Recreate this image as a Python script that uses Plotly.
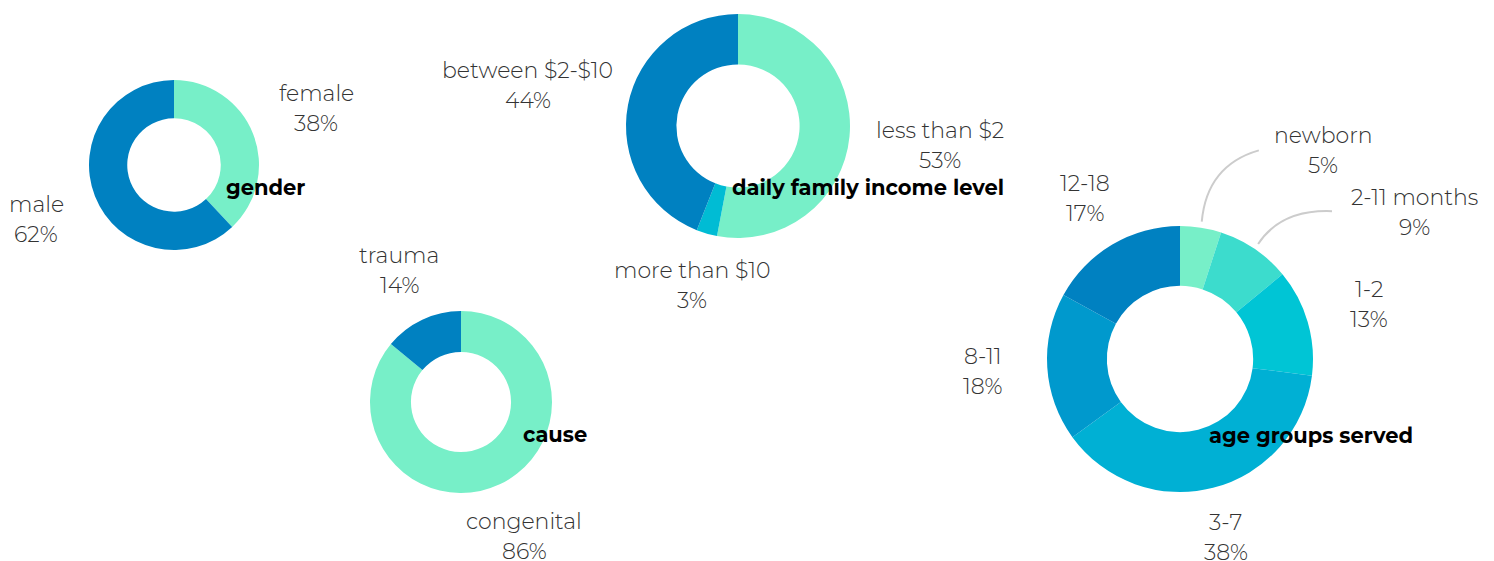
import math
import plotly.graph_objects as go

# The page body has an 8px margin: figure is offset by (8, 8) in the window.
OFF = 8
W, H = 1494 - OFF, 561 - OFF

# ---------------- data ----------------
gender_labels = ["female", "male"]
gender_values = [38, 62]

cause_labels = ["congenital", "trauma"]
cause_values = [86, 14]

income_labels = ["less than $2", "more than $10", "between $2-$10"]
income_values = [53, 3, 44]

age_labels = ["newborn", "2-11 months", "1-2", "3-7", "8-11", "12-18"]
age_values = [5, 9, 13, 38, 18, 17]

titles = ["gender", "cause", "daily family income level", "age groups served"]

# ---------------- styles / layout ----------------
MINT = "#77efc8"
DARK = "#0081c1"
gender_colors = [MINT, DARK]
cause_colors = [MINT, DARK]
income_colors = [MINT, "#00bcd4", DARK]
age_colors = [MINT, "#3cdccd", "#00c5d5", "#00b0d4", "#0099cd", DARK]

# (center x, center y, radius) in window pixels
geom = [(174, 165, 85), (461, 402, 91), (738, 126, 112), (1180, 359, 133)]
# label distance from pie centre (px) for each slice
label_dist = [[153, 148], [149, 145], [203, 166, 214], [None, None, 197, 184, 198, 186]]
# labels moved away with a connector:
# slice index -> (label angle, label dist, connector-end angle, end dist, ctrl fx, ctrl fy)
moved = {3: {0: (34.4, 253, 20.7, 223, 0.09, 0.21),
             1: (58.0, 277, 45.8, 212, 0.31, -0.06)}}
title_pos = [(265, 187), (555, 434), (868, 187), (1311, 435)]

FONT = "Montserrat, Inter, 'Open Sans', sans-serif"
LABEL_COLOR = "#333333"
LABEL_SIZE = 22
TITLE_SIZE = 21
LINE_GAP = 30

charts = [
    (gender_labels, gender_values, gender_colors),
    (cause_labels, cause_values, cause_colors),
    (income_labels, income_values, income_colors),
    (age_labels, age_values, age_colors),
]


def px(x, y):
    """window pixel -> paper fraction"""
    return (x - OFF) / W, 1 - (y - OFF) / H


def polar(cx, cy, ang, d):
    return cx + d * math.sin(math.radians(ang)), cy - d * math.cos(math.radians(ang))


fig = go.Figure()
annotations = []
shapes = []

for ci, ((labels, values, colors), (cx, cy, R)) in enumerate(zip(charts, geom)):
    x0, y1 = px(cx - R, cy - R)
    x1, y0 = px(cx + R, cy + R)
    fig.add_trace(go.Pie(
        labels=labels, values=values, hole=0.55, sort=False,
        direction="clockwise", rotation=0,
        marker=dict(colors=colors, line=dict(width=0)),
        textinfo="none", hoverinfo="label+percent", showlegend=False,
        domain=dict(x=[x0, x1], y=[y0, y1]),
    ))
    total = sum(values)
    cum = 0
    for i, (lab, v) in enumerate(zip(labels, values)):
        mid = (cum + v / 2) / total * 360
        cum += v
        pct = round(v / total * 100)
        if ci in moved and i in moved[ci]:
            la, ld, ea, ed, fx, fy = moved[ci][i]
            lx, ly = polar(cx, cy, la, ld)
            sx, sy = polar(cx, cy, mid, R + 6)
            ex, ey = polar(cx, cy, ea, ed)
            qx = sx + fx * (ex - sx)
            qy = ey + fy * (sy - ey)
            p0 = px(sx, sy); p1 = px(qx, qy); p2 = px(ex, ey)
            shapes.append(dict(
                type="path", xref="paper", yref="paper",
                path=f"M {p0[0]},{p0[1]} Q {p1[0]},{p1[1]} {p2[0]},{p2[1]}",
                line=dict(color="#cccccc", width=2),
            ))
        else:
            lx, ly = polar(cx, cy, mid, label_dist[ci][i])
        for k, line in enumerate([lab, f"{pct}%"]):
            ax, ay = px(lx, ly + (k - 0.5) * LINE_GAP)
            annotations.append(dict(
                x=ax, y=ay, xref="paper", yref="paper", text=line,
                showarrow=False, xanchor="center", yanchor="middle",
                font=dict(family=FONT, size=LABEL_SIZE, color=LABEL_COLOR, weight=300),
            ))
    tx, ty = px(*title_pos[ci])
    annotations.append(dict(
        x=tx, y=ty, xref="paper", yref="paper", text=f"<b>{titles[ci]}</b>",
        showarrow=False, xanchor="center", yanchor="middle",
        font=dict(family=FONT, size=TITLE_SIZE, color="#000000"),
    ))

fig.update_layout(
    width=W, height=H,
    margin=dict(l=0, r=0, t=0, b=0),
    paper_bgcolor="white", plot_bgcolor="white",
    annotations=annotations, shapes=shapes,
    showlegend=False,
)

fig.write_html("out.html")
